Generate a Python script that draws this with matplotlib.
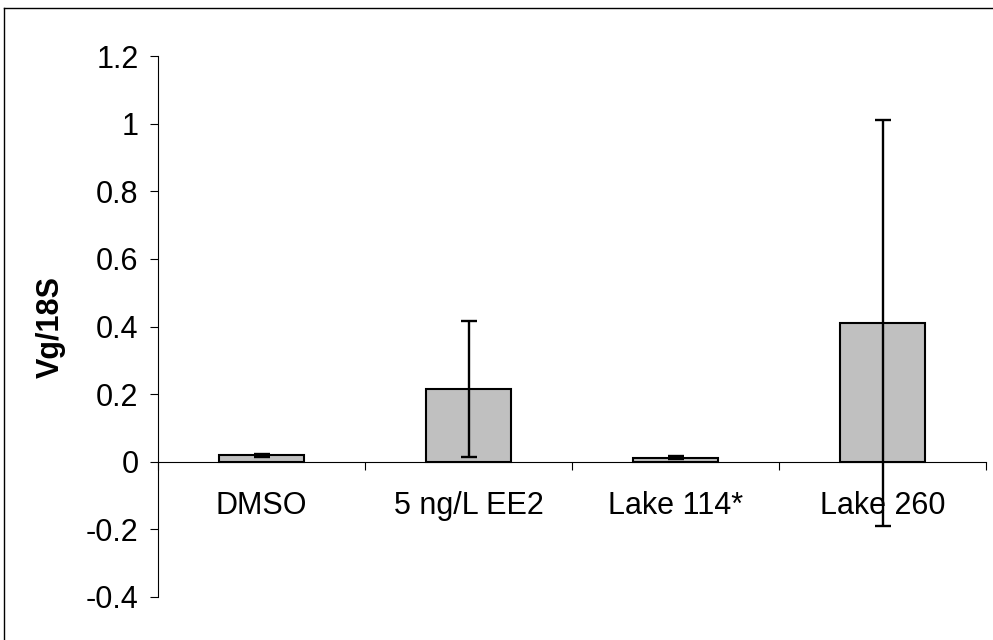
import matplotlib
matplotlib.use("Agg")
import matplotlib.pyplot as plt
from matplotlib.lines import Line2D
import numpy as np

plt.rcParams['font.family'] = ['Liberation Sans', 'DejaVu Sans']

# Vg expression relative to 18S, mean and error per treatment
groups = ["DMSO", "5 ng/L EE2", "Lake 114*", "Lake 260"]
vg_mean = [0.019, 0.215, 0.012, 0.41]
vg_err = [0.005, 0.202, 0.005, 0.60]
y_ticks = [-0.4, -0.2, 0, 0.2, 0.4, 0.6, 0.8, 1, 1.2]

fig = plt.figure(figsize=(9.93, 6.4), dpi=100)
ax = fig.add_axes([158 / 993, 1 - 597 / 640, (986 - 158) / 993, (597 - 56) / 640])

x = np.arange(len(groups))
ax.bar(x, vg_mean, width=0.41, color='#c0c0c0', edgecolor='black', linewidth=1.5, zorder=2)
ax.errorbar(x, vg_mean, yerr=vg_err, fmt='none', ecolor='black',
            elinewidth=1.7, capsize=6, capthick=1.7, zorder=4)

ax.set_xlim(-0.5, len(groups) - 0.5)
ax.set_ylim(-0.4, 1.2)
ax.set_yticks(y_ticks)
ax.set_yticklabels([f"{v:g}" for v in y_ticks], fontsize=22)
ax.tick_params(axis='y', direction='out', length=6, width=0.8, pad=8)

# category axis sits on y = 0, ticks between groups
ax.spines['bottom'].set_position(('data', 0))
ax.spines['top'].set_visible(False)
ax.spines['right'].set_visible(False)
for s in ('left', 'bottom'):
    ax.spines[s].set_linewidth(0.8)
ax.set_xticks(np.arange(len(groups) + 1) - 0.5)
ax.set_xticklabels([])
ax.tick_params(axis='x', which='major', direction='out', length=6, width=0.8)
ax.set_xticks(x, minor=True)
ax.set_xticklabels(groups, minor=True, fontsize=22)
ax.tick_params(axis='x', which='minor', length=0, pad=21)

fig.text(51 / 993, 1 - 327 / 640, "Vg/18S", rotation=90, fontsize=22,
         fontweight='bold', ha='center', va='center')

# outer frame (left and top edges)
fx, fy = 4 / 993, 1 - 8 / 640
fig.add_artist(Line2D([fx, fx], [0, fy], color='black', linewidth=1))
fig.add_artist(Line2D([fx, 1], [fy, fy], color='black', linewidth=1))

fig.savefig("out.png", dpi=100, facecolor='white')
